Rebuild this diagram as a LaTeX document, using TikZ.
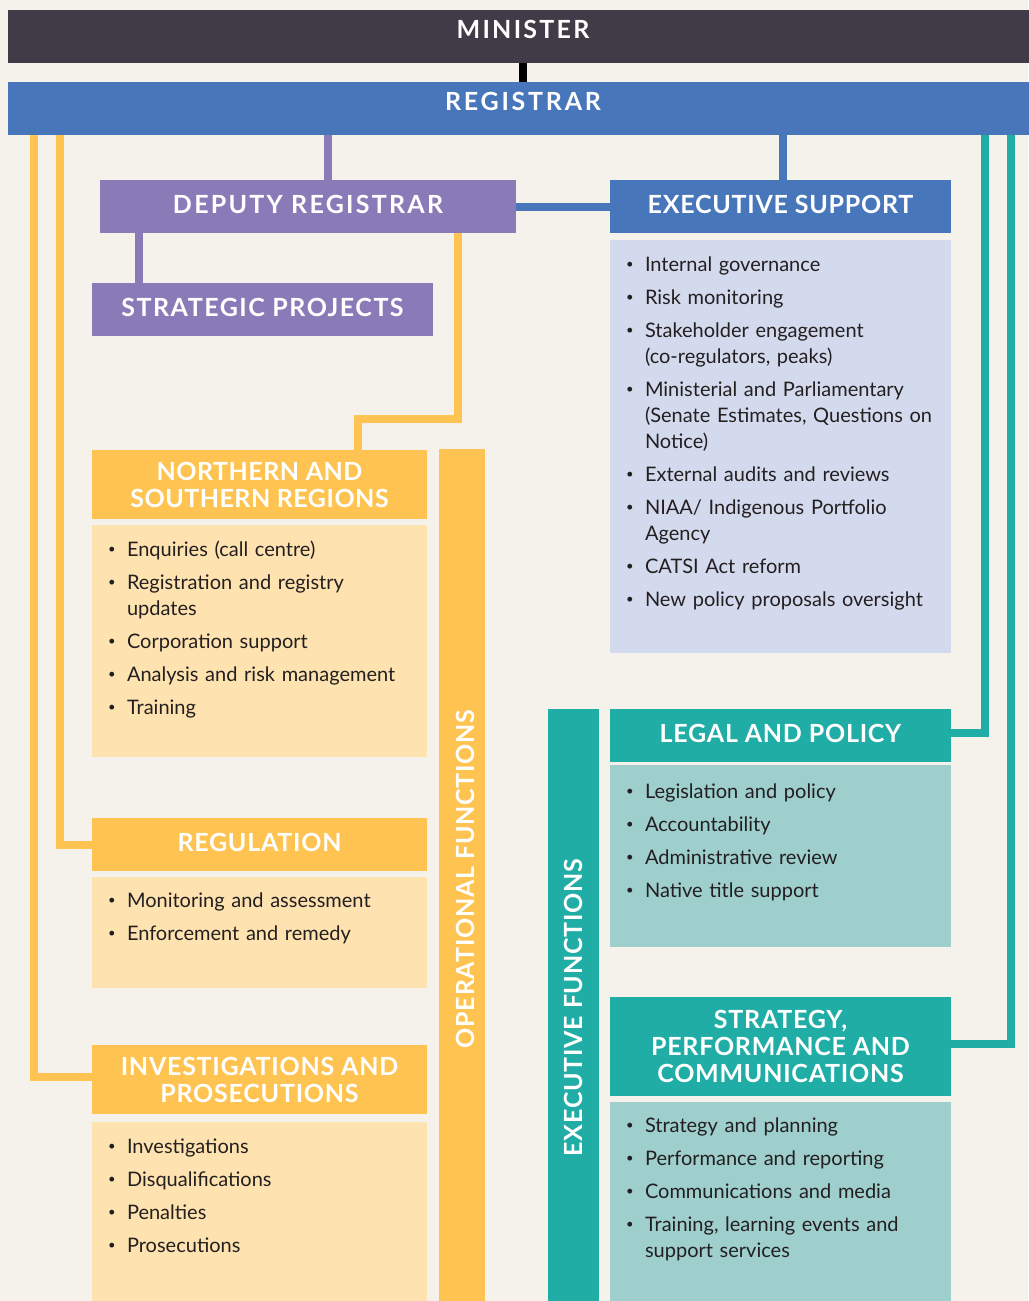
\documentclass[tikz,border=0pt]{standalone}
\usepackage{fontspec}
\setmainfont{Lato}[BoldFont={* Bold}]
\newfontfamily\headfont{Lato}[UprightFont={* Bold},LetterSpace=3.0]
\usetikzlibrary{positioning}

\definecolor{bgcream}{RGB}{245,242,235}
\definecolor{ministergrey}{RGB}{65,58,71}
\definecolor{regblue}{RGB}{72,118,187}
\definecolor{deppurple}{RGB}{138,123,184}
\definecolor{opyellow}{RGB}{254,195,81}
\definecolor{opyellowlt}{RGB}{254,227,176}
\definecolor{supblue}{RGB}{212,218,238}
\definecolor{exteal}{RGB}{31,173,166}
\definecolor{exteallt}{RGB}{158,207,205}
\definecolor{bodyink}{RGB}{35,31,32}

% small bullet and one entry of a duty list
\newcommand{\dutydot}{\raisebox{3pt}{\fontsize{13}{13}\selectfont\textbullet}}
\newcommand{\duty}[1]{\par\noindent\hangindent=35pt\hangafter=1%
  \rule{0pt}{20pt}\makebox[35pt][l]{\hspace{16pt}\dutydot}#1\par\vspace{7pt}}

\begin{document}
\begin{tikzpicture}[x=1pt,y=-1pt]

	\fill[bgcream] (0,0) rectangle (1028,1301);
	\useasboundingbox (0,0) rectangle (1028,1301);

	\tikzset{
		unitbox/.style={rectangle, inner sep=0pt, minimum height=53pt,
				text=white, align=center, text depth=5pt,
				font=\headfont\fontsize{25}{27}\selectfont},
		spread/.style={font=\headfont\fontsize{25}{27}\selectfont\addfontfeatures{LetterSpace=#1}},
		dutybox/.style={rectangle, inner sep=0pt, draw=none},
		dutylist/.style={inner sep=0pt, anchor=north west, text width=400pt,
				align=left, text=bodyink, font=\fontsize{20}{26}\selectfont},
		link/.style={line width=8pt}
	}

	% top of the chart
	\node[unitbox, spread=9, fill=ministergrey, minimum width=1030pt, text depth=14pt] (minister) at (523,36.5) {MINISTER};
	\node[unitbox, spread=11, fill=regblue, minimum width=1030pt, text depth=14pt] (registrar) at (523,108.5) {REGISTRAR};
	\node[unitbox, spread=9, fill=deppurple, minimum width=416pt] (deputy) at (308,206.5) {DEPUTY REGISTRAR};
	\node[unitbox, fill=regblue, minimum width=341pt] (execsup) at (780.5,206.5) {EXECUTIVE SUPPORT};
	\node[unitbox, spread=6, fill=deppurple, minimum width=341pt] (strategic) at (262.5,309.5) {STRATEGIC PROJECTS};

	% operational side
	\node[unitbox, spread=2, fill=opyellow, minimum width=335pt, minimum height=69pt, text depth=0pt] (northern) at (259.5,484.5) {NORTHERN AND\\SOUTHERN REGIONS};
	\node[unitbox, fill=opyellow, minimum width=335pt] (regulation) at (259.5,844.5) {REGULATION};
	\node[unitbox, fill=opyellow, minimum width=335pt, minimum height=69pt, text depth=0pt] (invest) at (259.5,1079.5) {INVESTIGATIONS AND\\PROSECUTIONS};

	\node[dutybox, fill=opyellowlt, minimum width=335pt, minimum height=232pt] (nsbody) at (259.5,641) {};
	\node[dutybox, fill=opyellowlt, minimum width=335pt, minimum height=111pt] (regbody) at (259.5,932.5) {};
	\node[dutybox, fill=opyellowlt, minimum width=335pt, minimum height=188pt] (invbody) at (259.5,1216) {};

	% executive side
	\node[unitbox, fill=exteal, minimum width=341pt] (legal) at (780.5,735.5) {LEGAL AND POLICY};
	\node[unitbox, fill=exteal, minimum width=341pt, minimum height=99pt, text depth=0pt] (strategy) at (780.5,1046.5) {STRATEGY,\\PERFORMANCE AND\\COMMUNICATIONS};

	\node[dutybox, fill=supblue, minimum width=341pt, minimum height=413pt] (supbody) at (780.5,446.5) {};
	\node[dutybox, fill=exteallt, minimum width=341pt, minimum height=182pt] (legbody) at (780.5,856) {};
	\node[dutybox, fill=exteallt, minimum width=341pt, minimum height=208pt] (stratbody) at (780.5,1206) {};

	% side bars with their titles
	\node[dutybox, fill=opyellow, minimum width=46pt, minimum height=861pt] (opbar) at (462,879.5) {};
	\node[dutybox, fill=exteal, minimum width=51pt, minimum height=601pt] (exbar) at (573.5,1009.5) {};
	\node[unitbox, rotate=90, minimum height=0pt, text depth=0pt] (oplabel) at (465,879) {OPERATIONAL FUNCTIONS};
	\node[unitbox, rotate=90, minimum height=0pt, text depth=0pt] (exlabel) at (573,1007.5) {EXECUTIVE FUNCTIONS};

	% duty lists
	\node[dutylist] (nslist) at ([yshift=-5pt]nsbody.north west) {%
		\duty{Enquiries (call centre)}
		\duty{Registration and registry\newline updates}
		\duty{Corporation support}
		\duty{Analysis and risk management}
		\duty{Training}};
	\node[dutylist] (reglist) at ([yshift=-4pt]regbody.north west) {%
		\duty{Monitoring and assessment}
		\duty{Enforcement and remedy}};
	\node[dutylist] (invlist) at ([yshift=-5pt]invbody.north west) {%
		\duty{Investigations}
		\duty{Disqualifications}
		\duty{Penalties}
		\duty{Prosecutions}};
	\node[dutylist] (suplist) at ([yshift=-5pt]supbody.north west) {%
		\duty{Internal governance}
		\duty{Risk monitoring}
		\duty{Stakeholder engagement\newline (co-regulators, peaks)}
		\duty{Ministerial and Parliamentary\newline (Senate Estimates, Questions on\newline Notice)}
		\duty{External audits and reviews}
		\duty{NIAA/ Indigenous Portfolio\newline Agency}
		\duty{CATSI Act reform}
		\duty{New policy proposals oversight}};
	\node[dutylist] (leglist) at ([yshift=-7pt]legbody.north west) {%
		\duty{Legislation and policy}
		\duty{Accountability}
		\duty{Administrative review}
		\duty{Native title support}};
	\node[dutylist] (stratlist) at ([yshift=-4pt]stratbody.north west) {%
		\duty{Strategy and planning}
		\duty{Performance and reporting}
		\duty{Communications and media}
		\duty{Training, learning events and\newline support services}};

	% reporting lines
	\draw[link, black] (minister.south) -- (registrar.north);
	\draw[link, deppurple] ([xshift=19.5pt]deputy.north) -- ([xshift=19.5pt]deputy.north |- registrar.south);
	\draw[link, regblue] ([xshift=2.5pt]execsup.north) -- ([xshift=2.5pt]execsup.north |- registrar.south);
	\draw[link, regblue] (deputy.east) -- (execsup.west);
	\draw[link, deppurple] ([xshift=39pt]deputy.south west) -- ([xshift=39pt]deputy.south west |- strategic.north);

	\coordinate (nsturn) at (358,418.5);
	\draw[link, opyellow] ([xshift=-58pt]deputy.south east) |- (nsturn) -- (nsturn |- northern.north);
	\draw[link, opyellow] ([xshift=52pt]registrar.south west) |- (regulation.west);
	\draw[link, opyellow] ([xshift=26pt]registrar.south west) |- ([yshift=2.5pt]invest.west);

	\draw[link, exteal] ([xshift=-53.5pt]registrar.south east) |- ([yshift=2.5pt]legal.east);
	\draw[link, exteal] ([xshift=-27pt]registrar.south east) |- ([yshift=2.5pt]strategy.east);

\end{tikzpicture}
\end{document}
